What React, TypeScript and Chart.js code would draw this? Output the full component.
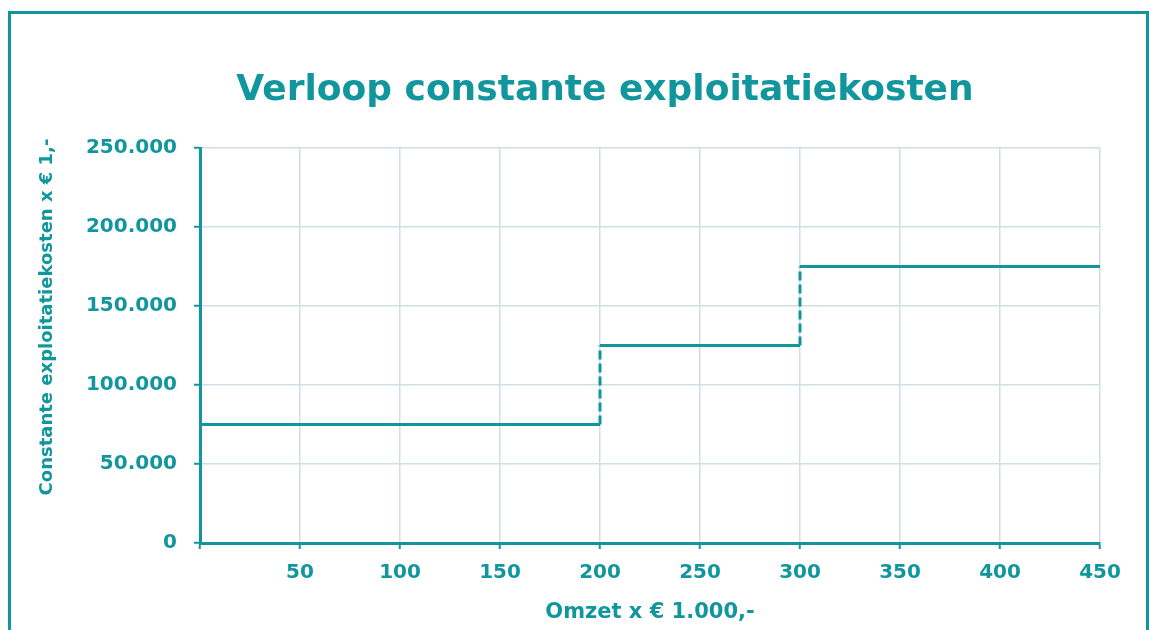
import React, { useEffect, useRef } from "react";
import { Chart, registerables } from "chart.js";

Chart.register(...registerables);

const chartTitle = "Verloop constante exploitatiekosten";
const xAxisTitle = "Omzet x € 1.000,-";
const yAxisTitle = "Constante exploitatiekosten x € 1,-";

// Omzet (x € 1.000) – step points
const omzetValues = [0, 200, 200, 300, 300, 450];
// Constante exploitatiekosten (x € 1)
const kostenValues = [75000, 75000, 125000, 125000, 175000, 175000];

const xMin = 0;
const xMax = 450;
const xStep = 50;
const yMin = 0;
const yMax = 250000;
const yStep = 50000;

const TEAL = "#12969e";
const GRID = "#cfe0e5";
const FONT = "'DejaVu Sans', Verdana, sans-serif";

function formatNL(v: number): string {
  return String(Math.round(v)).replace(/\B(?=(\d{3})+(?!\d))/g, ".");
}

const titlesPlugin = {
  id: "customTitles",
  afterDraw(chart: any) {
    const ctx = chart.ctx;
    ctx.save();
    ctx.fillStyle = TEAL;
    ctx.font = `bold 36px ${FONT}`;
    ctx.textAlign = "center";
    ctx.textBaseline = "alphabetic";
    ctx.fillText(chartTitle, 605, 100);

    ctx.translate(52, 317);
    ctx.rotate(-Math.PI / 2);
    ctx.font = `bold 18px ${FONT}`;
    ctx.textAlign = "center";
    ctx.textBaseline = "alphabetic";
    ctx.fillText(yAxisTitle, 0, 0);
    ctx.restore();
  },
};

export default function App() {
  const canvasRef = useRef<HTMLCanvasElement | null>(null);

  useEffect(() => {
    if (!canvasRef.current) return;
    const points = omzetValues.map((x, i) => ({ x, y: kostenValues[i] }));
    const chart = new Chart(canvasRef.current, {
      type: "line",
      data: {
        datasets: [
          {
            data: points,
            borderColor: TEAL,
            borderWidth: 3,
            pointRadius: 0,
            fill: false,
            tension: 0,
            segment: {
              borderDash: (ctx: any) =>
                ctx.p0.parsed.x === ctx.p1.parsed.x ? [9, 4] : undefined,
            },
          },
        ],
      },
      options: {
        responsive: false,
        animation: false,
        layout: { padding: { top: 148, right: 49, bottom: 0, left: 0 } },
        plugins: {
          legend: { display: false },
          title: { display: false },
          tooltip: { enabled: false },
        },
        scales: {
          x: {
            type: "linear",
            min: xMin,
            max: xMax,
            afterFit: (s: any) => {
              s.height = 87;
            },
            ticks: {
              stepSize: xStep,
              color: TEAL,
              font: { family: FONT, size: 20, weight: "bold" },
              padding: 12,
              maxRotation: 0,
              callback: (v: any) => (Number(v) === 0 ? "" : String(v)),
            },
            grid: {
              color: GRID,
              lineWidth: 1.5,
              tickLength: 6,
              tickColor: TEAL,
              tickWidth: 2,
            },
            border: { color: TEAL, width: 3 },
            title: {
              display: true,
              text: xAxisTitle,
              color: TEAL,
              font: { family: FONT, size: 21, weight: "bold" },
              padding: { top: 0, bottom: 5 },
            },
          },
          y: {
            type: "linear",
            min: yMin,
            max: yMax,
            afterFit: (s: any) => {
              s.width = 200;
            },
            ticks: {
              stepSize: yStep,
              color: TEAL,
              font: { family: FONT, size: 20, weight: "bold" },
              padding: 17,
              callback: (v: any) => formatNL(Number(v)),
            },
            grid: {
              color: GRID,
              lineWidth: 1.5,
              tickLength: 6,
              tickColor: TEAL,
              tickWidth: 2,
            },
            border: { color: TEAL, width: 3 },
          },
        },
      },
      plugins: [titlesPlugin],
    } as any);
    return () => chart.destroy();
  }, []);

  return (
    <div>
      <canvas
        ref={canvasRef}
        width={1149}
        height={630}
        style={{ position: "fixed", left: 0, top: 0, width: 1149, height: 630, background: "#ffffff" }}
      />
      <div
        style={{
          position: "fixed",
          left: 8,
          top: 11,
          width: 1141,
          height: 700,
          border: `3px solid ${TEAL}`,
          boxSizing: "border-box",
          pointerEvents: "none",
        }}
      />
    </div>
  );
}
